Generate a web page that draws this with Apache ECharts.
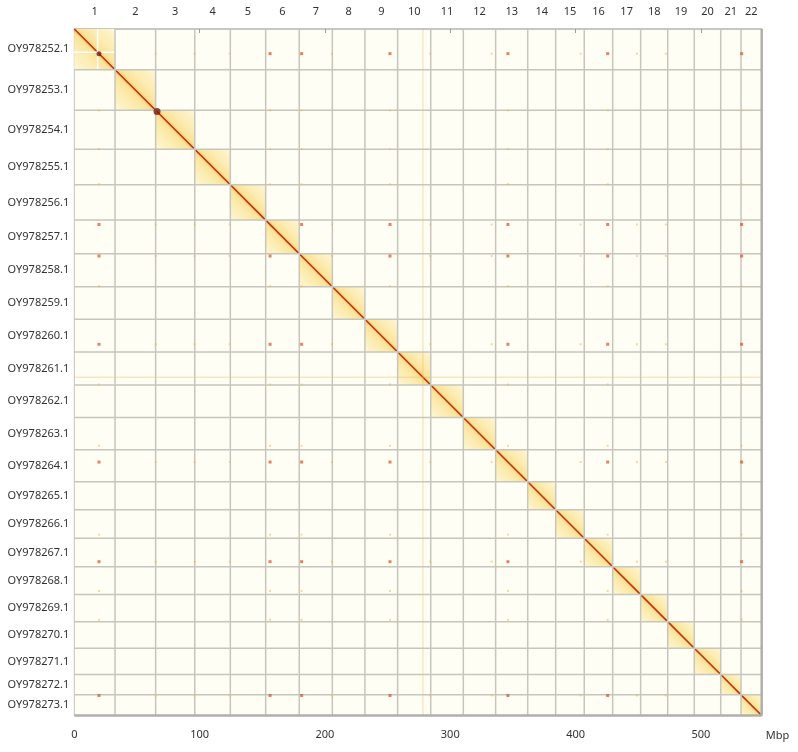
<!DOCTYPE html>
<html>
<head>
<meta charset="utf-8">
<script src="https://cdn.jsdelivr.net/npm/echarts@6/dist/echarts.min.js"></script>
<style>
html,body{margin:0;padding:0;background:#fff;}
#chart{width:798px;height:752px;}
</style>
</head>
<body>
<div id="chart"></div>
<script>
// ---- Data ----
const chromLabels = ['1','2','3','4','5','6','7','8','9','10','11','12','13','14','15','16','17','18','19','20','21','22'];
const seqNames = ['OY978252.1','OY978253.1','OY978254.1','OY978255.1','OY978256.1','OY978257.1','OY978258.1','OY978259.1','OY978260.1','OY978261.1','OY978262.1','OY978263.1','OY978264.1','OY978265.1','OY978266.1','OY978267.1','OY978268.1','OY978269.1','OY978270.1','OY978271.1','OY978272.1','OY978273.1'];
const chromSizesMbp = [32.5, 32.4, 31.2, 28.4, 28.2, 26.8, 26.4, 26.0, 26.1, 26.4, 26.0, 25.8, 25.6, 22.3, 22.8, 22.7, 22.3, 21.6, 21.2, 21.1, 16.2, 16.5];
const xTickValues = [0, 100, 200, 300, 400, 500];
// strong inter-chromosomal contact loci (Mbp, genome coordinates)
const hotLoci = [19.7, 156.2, 181.4, 251.9, 346.0, 425.6, 532.5];
// weaker contact loci
const minorLoci = [65.0, 96.0, 124.0, 205.5, 284.0, 333.0, 404.0, 449.0, 472.0];
// strong on-diagonal spots: [position Mbp, size]
const diagSpots = [[19.7, 5], [66.0, 7]];
// faint stripe locus
const stripeLoci = [278.2];
// gap locus inside chromosome 1 (white cross)
const gapLoci = [[18.6, 0]];

// ---- Derived ----
const starts = [];
let acc = 0;
chromSizesMbp.forEach(s => { starts.push(acc); acc += s; });
const total = acc;

const blockData = chromSizesMbp.map((s, i) => [starts[i], starts[i] + s, i]);
const boundaryData = starts.slice(1).map(b => [b]);
const dotData = [];
for (let i = 0; i < hotLoci.length; i++) {
  for (let j = 0; j < hotLoci.length; j++) {
    if (i !== j) dotData.push([hotLoci[i], hotLoci[j], 2]);
  }
}
for (let i = 0; i < hotLoci.length; i++) {
  for (let j = 0; j < minorLoci.length; j++) {
    dotData.push([hotLoci[i], minorLoci[j], 1]);
    dotData.push([minorLoci[j], hotLoci[i], 1]);
  }
}

const FONT = '"Noto Sans", "Open Sans", sans-serif';

const chart = echarts.init(document.getElementById('chart'), null, {renderer: 'canvas'});

const blockGradient = () => new echarts.graphic.LinearGradient(0, 1, 1, 0, [
  {offset: 0, color: '#fef8e0'},
  {offset: 0.12, color: '#fdf2c6'},
  {offset: 0.3, color: '#fcecb0'},
  {offset: 0.44, color: '#fbe39a'},
  {offset: 0.485, color: '#f8cf78'},
  {offset: 0.5, color: '#e8873a'},
  {offset: 0.515, color: '#f8cf78'},
  {offset: 0.56, color: '#fbe39a'},
  {offset: 0.7, color: '#fcecb0'},
  {offset: 0.88, color: '#fdf2c6'},
  {offset: 1, color: '#fef8e0'}
]);

chart.setOption({
  animation: false,
  backgroundColor: '#ffffff',
  grid: {
    left: 74.3, right: 36.3, top: 29, bottom: 36.5,
    show: true, backgroundColor: '#fffef5', borderColor: '#c4c4bc', borderWidth: 1
  },
  xAxis: {
    type: 'value', min: 0, max: total, interval: 100,
    position: 'bottom', offset: 7,
    axisLine: {show: true, lineStyle: {color: '#bdbdbd', width: 1.5}},
    axisTick: {show: true, length: 4, lineStyle: {color: '#9a9a9a'}},
    axisLabel: {
      color: '#333', fontSize: 11, fontFamily: FONT, margin: 7,
      showMaxLabel: false,
      formatter: v => (xTickValues.indexOf(v) >= 0 ? String(v) : '')
    },
    splitLine: {show: false}
  },
  yAxis: {
    type: 'value', min: 0, max: total, inverse: true, show: false,
    splitLine: {show: false}
  },
  series: [
    {
      name: 'intra',
      type: 'custom',
      data: blockData,
      clip: false,
      renderItem: (params, api) => {
        const s = api.value(0), e = api.value(1), idx = api.value(2);
        const p0 = api.coord([s, s]);
        const p1 = api.coord([e, e]);
        const children = [
          {type: 'rect', shape: {x: p0[0], y: p0[1], width: p1[0] - p0[0], height: p1[1] - p0[1]},
           style: {fill: blockGradient()}},
          {type: 'line', shape: {x1: p0[0], y1: p0[1], x2: p1[0], y2: p1[1]},
           style: {stroke: '#b3361a', lineWidth: 1.5}},
          {type: 'text', style: {text: chromLabels[idx], x: (p0[0] + p1[0]) / 2, y: params.coordSys.y - 17,
            align: 'center', verticalAlign: 'middle', fill: '#333', font: '11px ' + FONT}},
          {type: 'text', style: {text: seqNames[idx], x: params.coordSys.x - 5, y: (p0[1] + p1[1]) / 2,
            align: 'right', verticalAlign: 'middle', fill: '#333', font: '11px ' + FONT}}
        ];
        return {type: 'group', children};
      },
      z: 2
    },
    {
      name: 'gaps',
      type: 'custom',
      data: gapLoci,
      renderItem: (params, api) => {
        const g = api.value(0);
        const ci = 0;
        const a = api.coord([starts[ci], g]);
        const b = api.coord([starts[ci] + chromSizesMbp[ci], g]);
        const c = api.coord([g, starts[ci]]);
        const d = api.coord([g, starts[ci] + chromSizesMbp[ci]]);
        return {type: 'group', children: [
          {type: 'line', shape: {x1: a[0], y1: a[1], x2: b[0], y2: b[1]}, style: {stroke: '#ffffff', lineWidth: 1.5}},
          {type: 'line', shape: {x1: c[0], y1: c[1], x2: d[0], y2: d[1]}, style: {stroke: '#ffffff', lineWidth: 1.5}}
        ]};
      },
      z: 3
    },
    {
      name: 'stripes',
      type: 'custom',
      data: stripeLoci.map(v => [v]),
      renderItem: (params, api) => {
        const v = api.value(0);
        const a = api.coord([v, 0]), b = api.coord([v, total]);
        const c = api.coord([0, v]), d = api.coord([total, v]);
        return {type: 'group', children: [
          {type: 'line', shape: {x1: a[0], y1: a[1], x2: b[0], y2: b[1]}, style: {stroke: 'rgba(240,170,70,0.45)', lineWidth: 1}},
          {type: 'line', shape: {x1: c[0], y1: c[1], x2: d[0], y2: d[1]}, style: {stroke: 'rgba(240,170,70,0.45)', lineWidth: 1}}
        ]};
      },
      z: 3
    },
    {
      name: 'boundaries',
      type: 'custom',
      data: boundaryData,
      renderItem: (params, api) => {
        const v = api.value(0);
        const a = api.coord([v, 0]), b = api.coord([v, total]);
        const c = api.coord([0, v]), d = api.coord([total, v]);
        return {type: 'group', children: [
          {type: 'line', shape: {x1: a[0], y1: a[1], x2: b[0], y2: b[1]}, style: {stroke: '#c6c6bc', lineWidth: 1.5}},
          {type: 'line', shape: {x1: c[0], y1: c[1], x2: d[0], y2: d[1]}, style: {stroke: '#c6c6bc', lineWidth: 1.5}}
        ]};
      },
      z: 4
    },
    {
      name: 'frame',
      type: 'custom',
      data: [[total]],
      clip: false,
      renderItem: (params, api) => {
        const br = api.coord([total, total]);
        const tr = api.coord([total, 0]);
        const bl = api.coord([0, total]);
        return {type: 'group', children: [
          {type: 'line', shape: {x1: tr[0], y1: tr[1], x2: br[0], y2: br[1]}, style: {stroke: '#b0b0a8', lineWidth: 2.5}},
          {type: 'line', shape: {x1: bl[0], y1: bl[1], x2: br[0], y2: br[1]}, style: {stroke: '#b0b0a8', lineWidth: 2.5}},
          {type: 'text', style: {text: 'Mbp', x: br[0] + 4, y: br[1] + 20, align: 'left', verticalAlign: 'middle',
            fill: '#333', font: '11px ' + FONT}}
        ]};
      },
      z: 5
    },
    {
      name: 'inter',
      type: 'scatter',
      data: dotData,
      symbol: 'rect',
      symbolSize: d => (d[2] === 2 ? 3 : 2),
      itemStyle: {
        color: p => (p.data[2] === 2 ? 'rgba(222,80,45,0.9)' : 'rgba(242,180,70,0.65)')
      },
      z: 6
    },
    {
      name: 'diagSpots',
      type: 'scatter',
      data: diagSpots.map(d => [d[0], d[0], d[1]]),
      symbol: 'circle',
      symbolSize: d => d[2],
      itemStyle: {color: '#7a1a0c'},
      z: 7
    }
  ]
});
</script>
</body>
</html>
